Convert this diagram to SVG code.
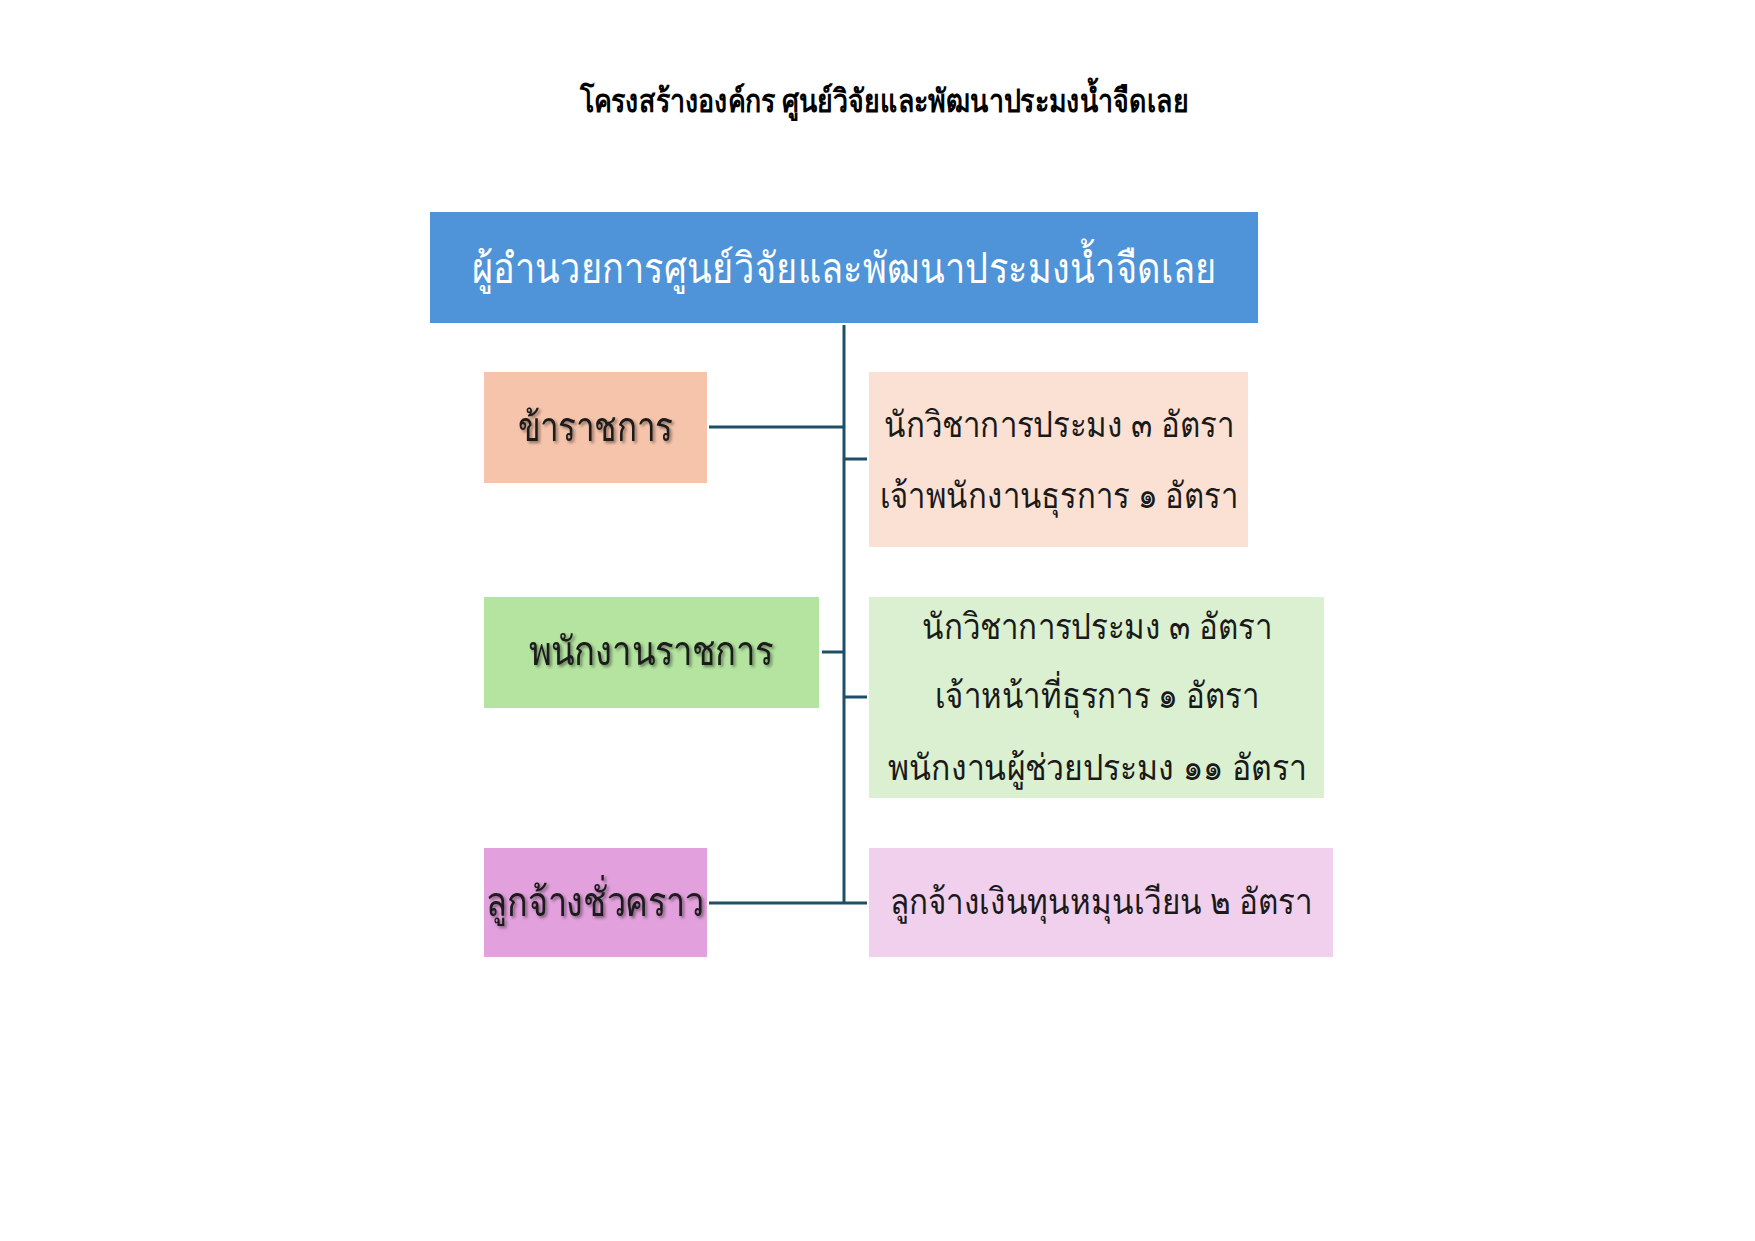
<svg xmlns="http://www.w3.org/2000/svg" width="1755" height="1241" viewBox="0 0 1755 1241">
<style>
text{font-family:"Noto Sans","DejaVu Sans",sans-serif;text-anchor:middle;dominant-baseline:central}
.title{font-size:32px;font-weight:bold;fill:#000}
.head{font-size:42px;fill:#fff}
.cat{font-size:40px;fill:#1a1a1a}
.det{font-size:36px;fill:#1a1a1a}
.ln{stroke:#1d4f66;stroke-width:3;fill:none}
</style>
<defs>
<filter id="sh" x="-10%" y="-20%" width="130%" height="150%">
<feDropShadow dx="2" dy="2" stdDeviation="1.5" flood-color="#000" flood-opacity="0.45"/>
</filter>
</defs>
<rect width="1755" height="1241" fill="#fff"/>
<text class="title" x="884" y="99" textLength="609" lengthAdjust="spacingAndGlyphs">โครงสร้างองค์กร ศูนย์วิจัยและพัฒนาประมงน้ำจืดเลย</text>
<g id="connectors">
<line class="ln" x1="844" y1="325" x2="844" y2="903"/>
<line class="ln" x1="709" y1="427" x2="844" y2="427"/>
<line class="ln" x1="844" y1="459" x2="867" y2="459"/>
<line class="ln" x1="822" y1="652" x2="844" y2="652"/>
<line class="ln" x1="844" y1="697" x2="867" y2="697"/>
<line class="ln" x1="709" y1="903" x2="867" y2="903"/>
</g>
<g id="director">
<rect x="430" y="212" width="828" height="111" fill="#4f94d8"/>
<text class="head" x="844" y="266" textLength="745" lengthAdjust="spacingAndGlyphs">ผู้อำนวยการศูนย์วิจัยและพัฒนาประมงน้ำจืดเลย</text>
</g>
<g id="civil">
<rect x="484" y="372" width="223" height="111" fill="#f6c4ab"/>
<text class="cat" x="595" y="425" textLength="155" lengthAdjust="spacingAndGlyphs" filter="url(#sh)">ข้าราชการ</text>
</g>
<g id="civil-detail">
<rect x="869" y="372" width="379" height="175" fill="#fae1d4"/>
<text class="det" x="1059" y="423" textLength="350" lengthAdjust="spacingAndGlyphs">นักวิชาการประมง ๓ อัตรา</text>
<text class="det" x="1059" y="494" textLength="358" lengthAdjust="spacingAndGlyphs">เจ้าพนักงานธุรการ ๑ อัตรา</text>
</g>
<g id="gov-employee">
<rect x="484" y="597" width="335" height="111" fill="#b4e4a0"/>
<text class="cat" x="651" y="649" textLength="245" lengthAdjust="spacingAndGlyphs" filter="url(#sh)">พนักงานราชการ</text>
</g>
<g id="gov-employee-detail">
<rect x="869" y="597" width="455" height="201" fill="#daf0d0"/>
<text class="det" x="1097" y="625" textLength="350" lengthAdjust="spacingAndGlyphs">นักวิชาการประมง ๓ อัตรา</text>
<text class="det" x="1097" y="694" textLength="324" lengthAdjust="spacingAndGlyphs">เจ้าหน้าที่ธุรการ ๑ อัตรา</text>
<text class="det" x="1097" y="766" textLength="419" lengthAdjust="spacingAndGlyphs">พนักงานผู้ช่วยประมง ๑๑ อัตรา</text>
</g>
<g id="temp">
<rect x="484" y="848" width="223" height="109" fill="#e2a0dc"/>
<text class="cat" x="595" y="900" textLength="218" lengthAdjust="spacingAndGlyphs" filter="url(#sh)">ลูกจ้างชั่วคราว</text>
</g>
<g id="temp-detail">
<rect x="869" y="848" width="464" height="109" fill="#f0d0ec"/>
<text class="det" x="1101" y="900" textLength="423" lengthAdjust="spacingAndGlyphs">ลูกจ้างเงินทุนหมุนเวียน ๒ อัตรา</text>
</g>
</svg>
